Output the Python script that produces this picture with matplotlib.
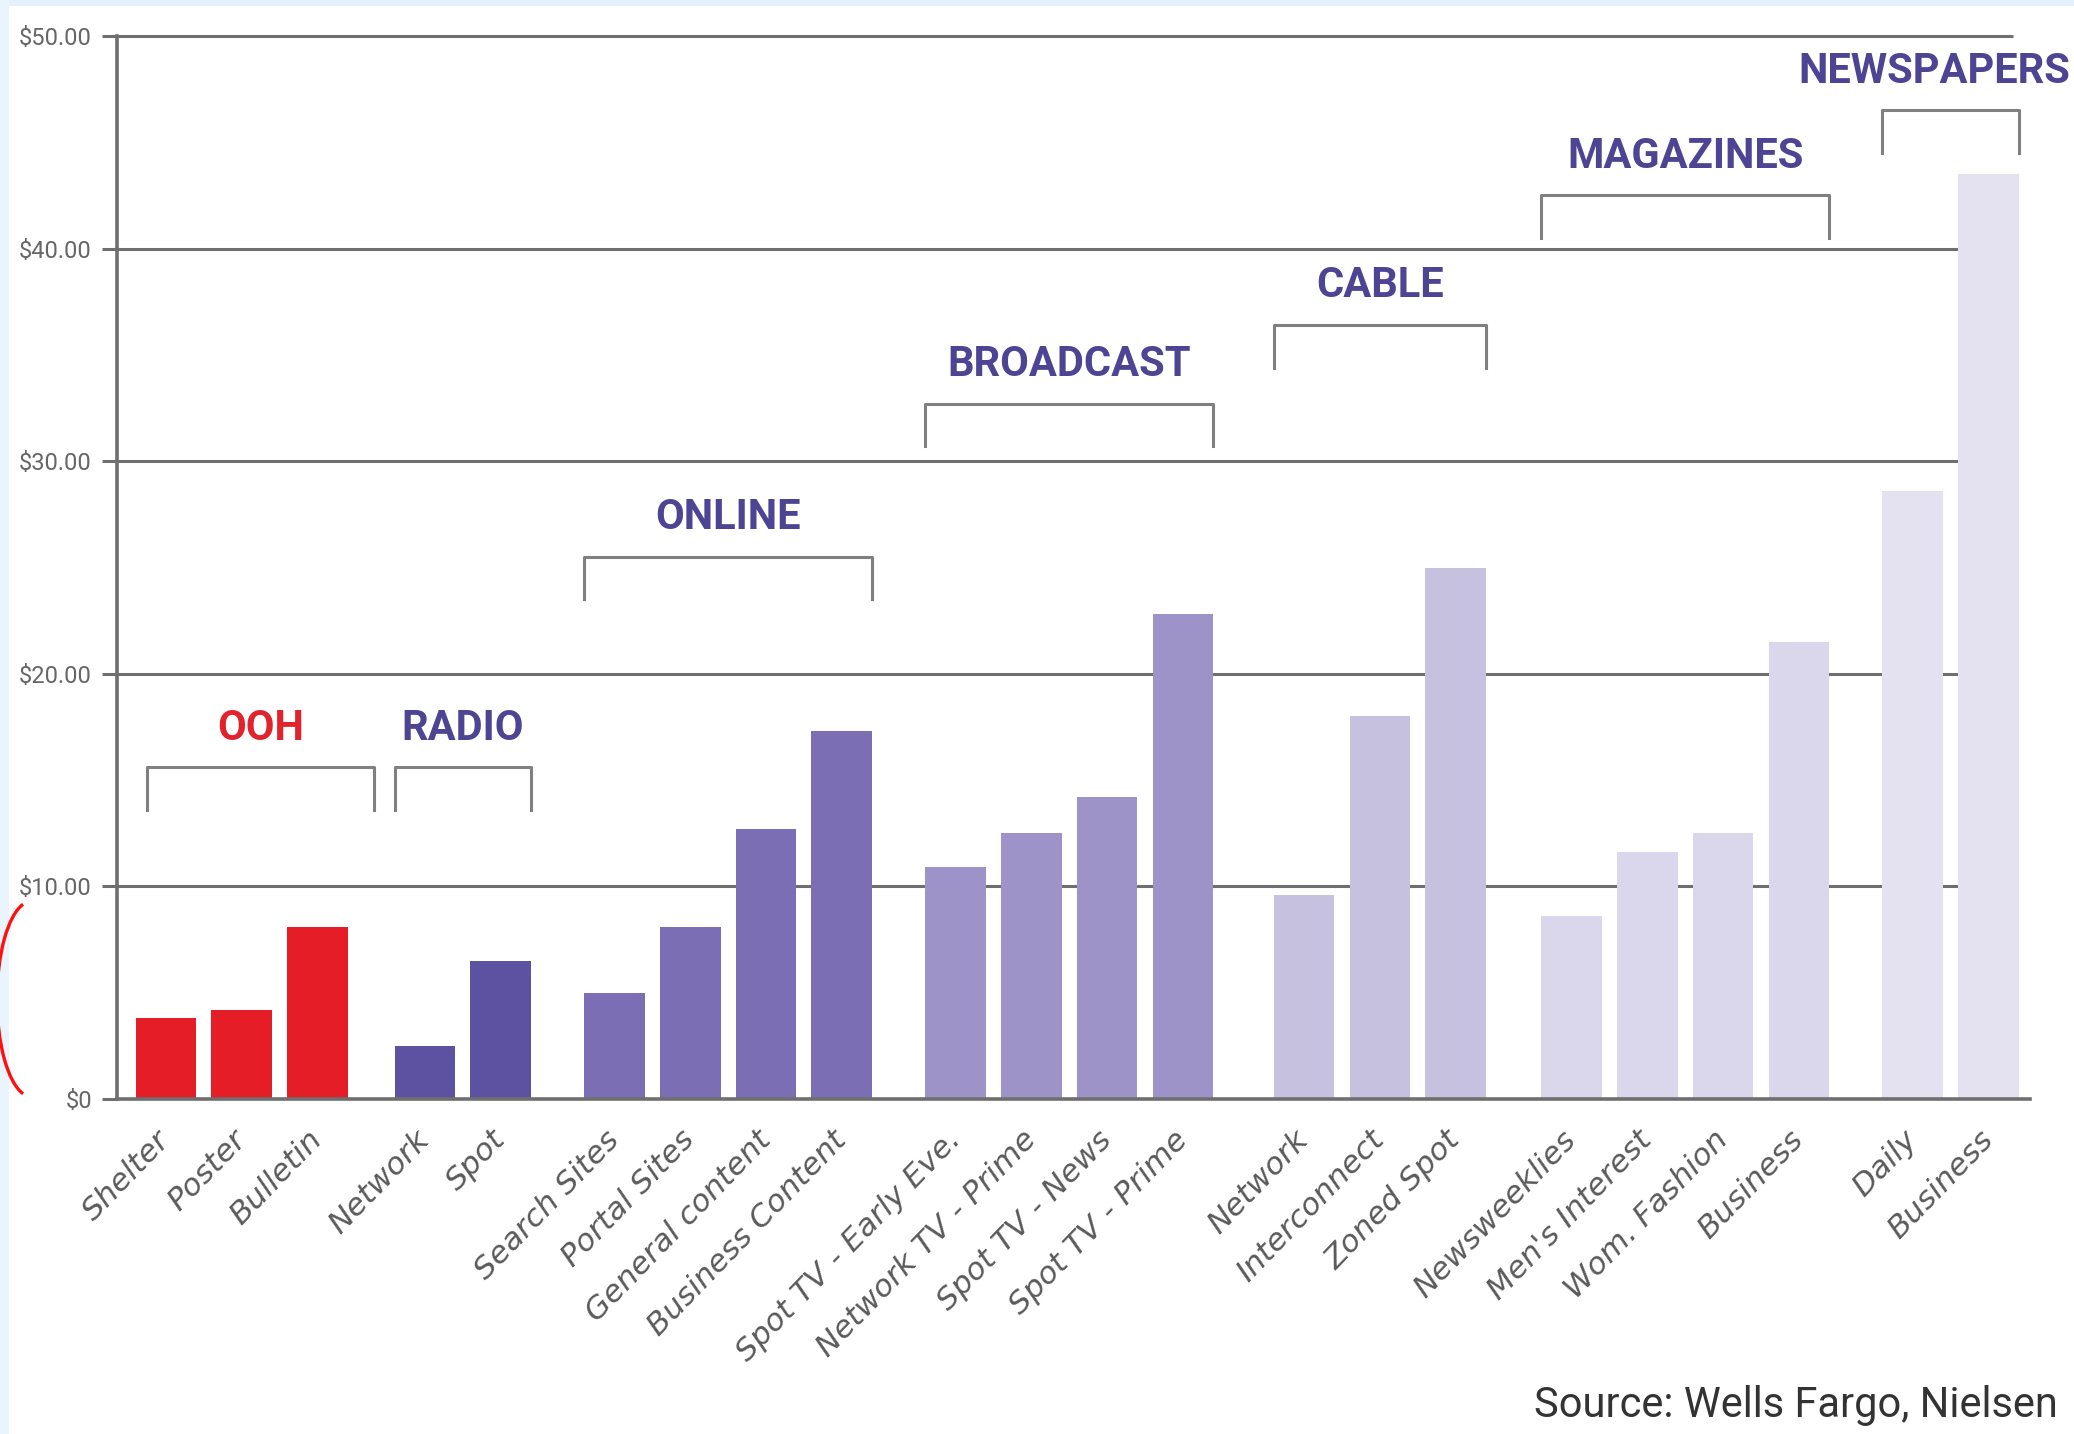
import matplotlib
matplotlib.use("Agg")
import matplotlib.pyplot as plt
from matplotlib.patches import Rectangle, Arc
from matplotlib.transforms import IdentityTransform, blended_transform_factory

# cost per thousand by media type (USD)
group_names = ["OOH", "RADIO", "ONLINE", "BROADCAST", "CABLE", "MAGAZINES", "NEWSPAPERS"]
group_sizes = [3, 2, 4, 4, 3, 4, 2]
categories = [
    "Shelter", "Poster", "Bulletin",
    "Network", "Spot",
    "Search Sites", "Portal Sites", "General content", "Business Content",
    "Spot TV - Early Eve.", "Network TV - Prime", "Spot TV - News", "Spot TV - Prime",
    "Network", "Interconnect", "Zoned Spot",
    "Newsweeklies", "Men's Interest", "Wom. Fashion", "Business",
    "Daily", "Business",
]
values = [
    3.8, 4.2, 8.1,
    2.5, 6.5,
    5.0, 8.1, 12.7, 17.3,
    10.9, 12.5, 14.2, 22.8,
    9.6, 18.0, 25.0,
    8.6, 11.6, 12.5, 21.5,
    28.6, 43.5,
]
y_ticks = [0, 10, 20, 30, 40, 50]
y_tick_labels = ["\\$0", "\\$10.00", "\\$20.00", "\\$30.00", "\\$40.00", "\\$50.00"]
source_note = "Source: Wells Fargo, Nielsen"

# styling
bar_colors_by_group = ["#e41d27", "#5d51a1", "#7b6eb5", "#9e93c8", "#c6c1df", "#dad6eb", "#e4e2f0"]
label_colors = ["#e0232d", "#4e4494", "#4e4494", "#4e4494", "#4e4494", "#4e4494", "#4e4494"]
bracket_tops = [15.6, 15.6, 25.5, 32.7, 36.4, 42.5, 46.5]
group_gaps = [0.42, 0.5, 0.5, 0.6, 0.53, 0.5]
line_gray = "#6f6f6f"
narrow = ["Roboto", "DejaVu Sans"]

# one unit between bars, about half a unit extra between groups
x = []
bar_colors = []
pos = 0.0
for g, n in enumerate(group_sizes):
    for _ in range(n):
        x.append(pos)
        bar_colors.append(bar_colors_by_group[g])
        pos += 1
    if g < len(group_gaps):
        pos += group_gaps[g]

fig = plt.figure(figsize=(20.74, 14.34), dpi=100)
fig.patch.set_facecolor("white")
ax = fig.add_axes([0.0564, 0.2336, 0.9224, 0.7413])
ax.set_xlim(-0.645, x[-1] + 0.55)
ax.set_ylim(0, 50)

ax.hlines(y_ticks[1:], -0.645, x[-1] + 0.32, colors=line_gray, lw=2.2, zorder=1, clip_on=False)
ax.bar(x, values, width=0.8, color=bar_colors, zorder=2)

for s in ["top", "right"]:
    ax.spines[s].set_visible(False)
for s in ["left", "bottom"]:
    ax.spines[s].set_color(line_gray)
    ax.spines[s].set_linewidth(2.6)
    ax.spines[s].set_zorder(3)

ax.set_yticks(y_ticks)
ax.set_yticklabels(y_tick_labels, family=narrow, fontsize=17, color="#666666")
ax.tick_params(axis="y", direction="out", length=11, width=2.2, color=line_gray, pad=7)

ax.set_xticks(x)
ax.set_xticklabels(categories, rotation=46, ha="right", va="center", rotation_mode="anchor",
                   fontsize=22.5, style="oblique", color="#5a5a5a")
ax.tick_params(axis="x", length=0, pad=26)

# group brackets and labels
start = 0
for g, n in enumerate(group_sizes):
    left = x[start] - 0.4
    right = x[start + n - 1] + 0.4
    if g == 0:
        left, right = left + 0.15, right + 0.35
    top = bracket_tops[g]
    ax.plot([left, left, right, right], [top - 2.0, top, top, top - 2.0],
            color="#808080", lw=2.2, zorder=2, clip_on=False)
    if g == len(group_sizes) - 1:
        # last label runs up to the right edge of the picture
        ax.text(0.998, top + 1.85, group_names[g], ha="right", va="center",
                transform=blended_transform_factory(fig.transFigure, ax.transData),
                family=narrow, fontweight="bold", fontsize=30, color=label_colors[g])
    else:
        ax.text((left + right) / 2, top + 1.85, group_names[g], ha="center", va="center",
                family=narrow, fontweight="bold", fontsize=30, color=label_colors[g], clip_on=False)
    start += n

fig.text(1534 / 2074, 1 - 1405 / 1434, source_note, ha="left", va="center",
         family=narrow, fontsize=30, color="#333333")

# screenshot frame and the red mark at the left edge
fig.patches.append(Rectangle((0, 1 - 6 / 1434), 1, 6 / 1434, transform=fig.transFigure,
                             facecolor="#e3f0fb", edgecolor="none", zorder=0))
fig.patches.append(Rectangle((0, 0), 9 / 2074, 1, transform=fig.transFigure,
                             facecolor="#eaf4fc", edgecolor="none", zorder=0))
fig.patches.append(Arc((32, 1434 - 999), 70, 196, theta1=95.4, theta2=264.6,
                       transform=IdentityTransform(), color="#ff1010", lw=2.4))

fig.savefig("out.png", dpi=100)
